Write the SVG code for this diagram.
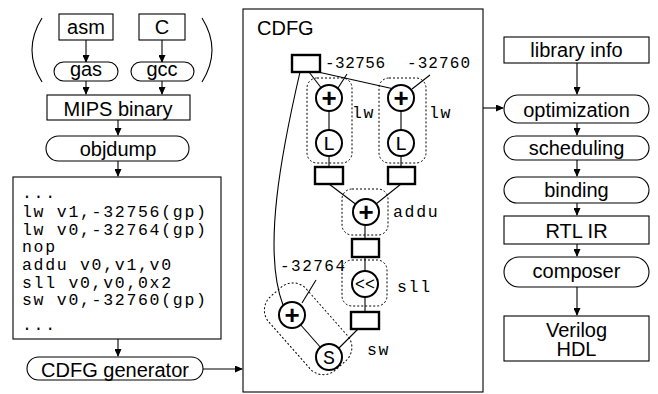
<svg xmlns="http://www.w3.org/2000/svg" width="658" height="394" viewBox="0 0 658 394">
<style>
.b{fill:#fff;stroke:#000;stroke-width:1.1}
.t{font-family:"Liberation Sans",Arial,sans-serif;font-size:20px;text-anchor:middle;fill:#000}
.m{font-family:"Liberation Mono","Courier New",monospace;font-size:16.5px;letter-spacing:1.7px;fill:#000}
.n{font-family:"Liberation Mono","Courier New",monospace;font-size:16px;fill:#000}
.c{fill:#fff;stroke:#000;stroke-width:2}
.r{fill:#fff;stroke:#000;stroke-width:2.4}
.d{fill:none;stroke:#000;stroke-width:1;stroke-dasharray:2,2}
.l{fill:none;stroke:#000;stroke-width:1.1}
.a{fill:none;stroke:#000;stroke-width:1.1;marker-end:url(#ah)}
.g{font-family:"Liberation Sans",Arial,sans-serif;font-size:26px;font-weight:bold;text-anchor:middle}
.k{font-family:"Liberation Mono","Courier New",monospace;font-size:20px;text-anchor:middle}
</style>
<defs>
<marker id="ah" markerWidth="8" markerHeight="7" refX="7" refY="3.5" orient="auto" markerUnits="userSpaceOnUse">
<path d="M0,0 L8,3.5 L0,7 z" fill="#000"/>
</marker>
</defs>
<rect width="658" height="394" fill="#fff"/>

<g id="connectors">
<path class="a" d="M86,40 V62"/>
<path class="a" d="M162,40 V62"/>
<path class="a" d="M86,80 V94"/>
<path class="a" d="M162,80 V94"/>
<path class="a" d="M118,120 V135"/>
<path class="a" d="M118,161 V176"/>
<path class="a" d="M118,339 V356"/>
<path class="a" d="M203,369 H242"/>
<path class="a" d="M483,108 H503"/>
<path class="a" d="M577,63 V94"/>
<path class="a" d="M577,123 V135"/>
<path class="a" d="M577,160 V176"/>
<path class="a" d="M577,203 V215"/>
<path class="a" d="M577,244 V256"/>
<path class="a" d="M577,287 V315"/>
<path class="l" d="M42,18 Q22,50 42,82"/>
<path class="l" d="M202,18 Q222,50 202,82"/>
</g>

<g id="left">
<g id="asm"><rect class="b" x="59" y="14" width="54" height="26"/><text class="t" x="86" y="34">asm</text></g>
<g id="c"><rect class="b" x="139" y="14" width="46" height="26"/><text class="t" x="162" y="34">C</text></g>
<g id="gas"><rect class="b" x="54" y="62" width="64" height="19" rx="9.5"/><text class="t" x="86" y="76">gas</text></g>
<g id="gcc"><rect class="b" x="131" y="62" width="63" height="19" rx="9.5"/><text class="t" x="162" y="76">gcc</text></g>
<g id="mips"><rect class="b" x="47" y="95" width="143" height="25"/><text class="t" x="118" y="116">MIPS binary</text></g>
<g id="objdump"><rect class="b" x="46" y="136" width="143" height="25" rx="12.5"/><text class="t" x="118" y="156">objdump</text></g>
<g id="code"><rect class="b" x="13" y="177" width="208" height="162"/>
<text class="m" x="22" y="198">...</text>
<text class="m" x="22" y="217">lw v1,-32756(gp)</text>
<text class="m" x="22" y="235">lw v0,-32764(gp)</text>
<text class="m" x="22" y="252">nop</text>
<text class="m" x="22" y="270">addu v0,v1,v0</text>
<text class="m" x="22" y="288">sll v0,v0,0x2</text>
<text class="m" x="22" y="305">sw v0,-32760(gp)</text>
<text class="m" x="22" y="330">...</text>
</g>
<g id="cdfggen"><rect class="b" x="27" y="357" width="176" height="23" rx="11.5"/><text class="t" x="115" y="377">CDFG generator</text></g>
</g>

<g id="cdfg">
<rect class="b" x="243" y="9" width="240" height="383"/>
<text class="t" x="257" y="35" style="text-anchor:start">CDFG</text>
<g id="cdfg-edges">
<path class="l" d="M309,72 L329,98"/>
<path class="l" d="M318,72 L394,89"/>
<path class="l" d="M347,74 L338,88"/>
<path class="l" d="M430,75 L412,89"/>
<path class="l" d="M329,98 V176"/>
<path class="l" d="M401,98 V176"/>
<path class="l" d="M329,184 L366,212"/>
<path class="l" d="M401,184 L366,212"/>
<path class="l" d="M365,212 V321"/>
<path class="l" d="M358,329 L330,357"/>
<path class="l" d="M292,315 L329,357"/>
<path class="l" d="M316,280 L302,303"/>
<path class="l" d="M300,72 C282,150 262,250 283,305"/>
</g>
<rect class="d" x="307" y="78" width="45" height="85" rx="10"/>
<rect class="d" x="379" y="78" width="47" height="85" rx="10"/>
<rect class="d" x="342" y="189" width="46" height="46" rx="10"/>
<rect class="d" x="342" y="260" width="45" height="46" rx="10"/>
<rect class="d" x="-56" y="-28" width="98" height="50" rx="18" transform="translate(310.5,336) rotate(48.6)"/>
<rect class="r" x="292" y="55" width="28" height="17"/>
<text class="n" x="325" y="68" textLength="60" lengthAdjust="spacing">-32756</text>
<text class="n" x="407" y="68" textLength="63" lengthAdjust="spacing">-32760</text>
<g id="add1"><circle class="c" cx="329" cy="98" r="13"/><text class="g" x="329" y="107">+</text></g>
<g id="ld1"><circle class="c" cx="329" cy="143" r="13"/><text class="k" x="329" y="149.5">L</text></g>
<g id="add2"><circle class="c" cx="401" cy="98" r="13"/><text class="g" x="401" y="107">+</text></g>
<g id="ld2"><circle class="c" cx="401" cy="143" r="13"/><text class="k" x="401" y="149.5">L</text></g>
<text class="m" x="352" y="118">lw</text>
<text class="m" x="429" y="118">lw</text>
<rect class="r" x="315" y="167" width="28" height="17"/>
<rect class="r" x="388" y="167" width="27" height="17"/>
<g id="addu"><circle class="c" cx="366" cy="212" r="13"/><text class="g" x="366" y="221">+</text></g>
<text class="m" x="393" y="217">addu</text>
<rect class="r" x="352" y="239" width="27" height="18"/>
<g id="sll"><circle class="c" cx="365" cy="284" r="13"/><text class="k" x="365" y="290" style="font-size:18px" textLength="20" lengthAdjust="spacingAndGlyphs">&lt;&lt;</text></g>
<text class="m" x="397" y="292">sll</text>
<rect class="r" x="351" y="312" width="28" height="17"/>
<text class="n" x="280" y="271" textLength="65" lengthAdjust="spacing">-32764</text>
<g id="add3"><circle class="c" cx="292" cy="315" r="13"/><text class="g" x="292" y="324">+</text></g>
<g id="st"><circle class="c" cx="329" cy="357" r="13"/><text class="k" x="329" y="363.5">S</text></g>
<text class="m" x="367" y="355">sw</text>
</g>

<g id="right">
<g id="lib"><rect class="b" x="504" y="37" width="145" height="26"/><text class="t" x="576.5" y="57">library info</text></g>
<g id="opt"><rect class="b" x="504" y="95" width="145" height="28" rx="14"/><text class="t" x="576.5" y="117">optimization</text></g>
<g id="sched"><rect class="b" x="504" y="136" width="145" height="24" rx="12"/><text class="t" x="576.5" y="155">scheduling</text></g>
<g id="bind"><rect class="b" x="504" y="177" width="145" height="26" rx="13"/><text class="t" x="576.5" y="197">binding</text></g>
<g id="rtl"><rect class="b" x="504" y="216" width="145" height="28"/><text class="t" x="576.5" y="238">RTL IR</text></g>
<g id="comp"><rect class="b" x="504" y="257" width="145" height="30" rx="15"/><text class="t" x="576.5" y="278">composer</text></g>
<g id="verilog"><rect class="b" x="504" y="316" width="145" height="45"/><text class="t" x="576.5" y="337">Verilog</text><text class="t" x="576.5" y="356">HDL</text></g>
</g>
</svg>
